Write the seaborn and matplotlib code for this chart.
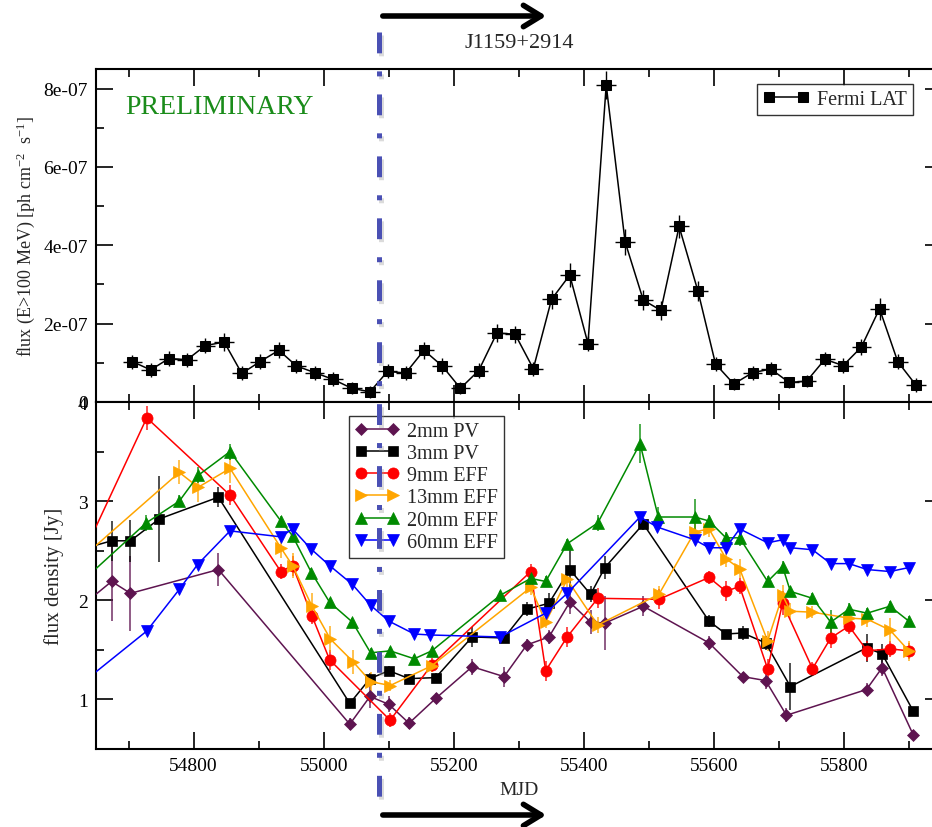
import numpy as np
import pandas as pd
import matplotlib
matplotlib.use("Agg")
import matplotlib.pyplot as plt
import seaborn as sns
from matplotlib.lines import Line2D
from matplotlib.ticker import MultipleLocator, FuncFormatter

# ---------------- data ----------------
fermi_mjd = [54706, 54734, 54762, 54790, 54818, 54847, 54874, 54902, 54931, 54958,
             54986, 55014, 55043, 55071, 55098, 55126, 55154, 55182, 55210, 55238,
             55266, 55294, 55322, 55350, 55378, 55406, 55434, 55463, 55491, 55518,
             55546, 55575, 55602, 55630, 55659, 55687, 55715, 55742, 55770, 55798,
             55826, 55854, 55882, 55910]
fermi_flux = [1.03, 0.82, 1.11, 1.08, 1.44, 1.53, 0.73, 1.03, 1.32, 0.92,
              0.75, 0.58, 0.35, 0.26, 0.78, 0.74, 1.32, 0.92, 0.35, 0.80,
              1.76, 1.73, 0.85, 2.62, 3.24, 1.49, 8.09, 4.09, 2.60, 2.34,
              4.48, 2.83, 0.97, 0.46, 0.75, 0.84, 0.50, 0.53, 1.09, 0.93,
              1.40, 2.38, 1.03, 0.43]  # units of 1e-7
fermi_err = [0.18, 0.18, 0.18, 0.18, 0.2, 0.22, 0.18, 0.2, 0.2, 0.18,
             0.18, 0.18, 0.15, 0.15, 0.18, 0.18, 0.22, 0.2, 0.15, 0.2,
             0.22, 0.22, 0.18, 0.25, 0.3, 0.2, 0.35, 0.33, 0.25, 0.25,
             0.3, 0.25, 0.18, 0.15, 0.18, 0.18, 0.15, 0.15, 0.18, 0.2,
             0.2, 0.28, 0.2, 0.18]
fermi_xerr = 15

mm2_mjd = [54620, 54674, 54703, 54838, 55040, 55071, 55100, 55131, 55172, 55228,
           55277, 55312, 55346, 55378, 55410, 55432, 55491, 55592, 55644, 55679,
           55711, 55834, 55858, 55906]
mm2_flux = [1.90, 2.19, 2.07, 2.31, 0.75, 1.03, 0.95, 0.76, 1.01, 1.33,
            1.23, 1.55, 1.63, 1.98, 1.78, 1.77, 1.94, 1.57, 1.23, 1.19,
            0.84, 1.10, 1.32, 0.64]
mm2_err = [0.1, 0.40, 0.38, 0.17, 0.06, 0.12, 0.08, 0.06, 0.05, 0.08,
           0.1, 0.06, 0.07, 0.12, 0.12, 0.27, 0.1, 0.07, 0.05, 0.08,
           0.07, 0.07, 0.08, 0.05]

mm3_mjd = [54620, 54674, 54703, 54747, 54838, 55040, 55071, 55100, 55131, 55172,
           55228, 55277, 55312, 55346, 55378, 55410, 55432, 55491, 55592, 55618,
           55644, 55679, 55717, 55834, 55858, 55906]
mm3_flux = [2.50, 2.60, 2.60, 2.82, 3.04, 0.96, 1.21, 1.29, 1.21, 1.22,
            1.63, 1.62, 1.91, 1.97, 2.31, 2.06, 2.33, 2.77, 1.79, 1.66,
            1.67, 1.57, 1.13, 1.52, 1.46, 0.88]
mm3_err = [0.1, 0.20, 0.21, 0.43, 0.10, 0.03, 0.06, 0.05, 0.05, 0.05,
           0.1, 0.05, 0.07, 0.1, 0.2, 0.08, 0.12, 0.06, 0.06, 0.04,
           0.07, 0.07, 0.24, 0.14, 0.1, 0.03]

mm9_mjd = [54620, 54728, 54856, 54934, 54952, 54982, 55009, 55102, 55166, 55318,
           55341, 55374, 55421, 55515, 55592, 55618, 55639, 55682, 55705, 55751,
           55779, 55807, 55835, 55870, 55899]
mm9_flux = [2.32, 3.84, 3.06, 2.29, 2.35, 1.84, 1.40, 0.79, 1.35, 2.29,
            1.29, 1.63, 2.02, 2.01, 2.23, 2.09, 2.14, 1.31, 1.97, 1.31,
            1.62, 1.74, 1.49, 1.51, 1.49]
mm9_err = [0.1, 0.12, 0.1, 0.08, 0.1, 0.08, 0.1, 0.07, 0.07, 0.08,
           0.1, 0.1, 0.1, 0.1, 0.07, 0.1, 0.08, 0.1, 0.12, 0.07,
           0.1, 0.08, 0.1, 0.08, 0.08]

mm13_mjd = [54620, 54778, 54807, 54856, 54934, 54952, 54982, 55010, 55045, 55072,
            55102, 55166, 55318, 55341, 55374, 55421, 55515, 55570, 55592, 55618,
            55639, 55682, 55705, 55717, 55751, 55807, 55835, 55870, 55899]
mm13_flux = [2.38, 3.29, 3.14, 3.33, 2.53, 2.35, 1.94, 1.61, 1.38, 1.18,
             1.14, 1.34, 2.13, 1.78, 2.21, 1.75, 2.06, 2.69, 2.72, 2.42,
             2.32, 1.59, 2.05, 1.89, 1.88, 1.82, 1.81, 1.70, 1.49]
mm13_err = [0.1, 0.12, 0.15, 0.15, 0.1, 0.13, 0.13, 0.13, 0.12, 0.1,
            0.06, 0.06, 0.08, 0.06, 0.08, 0.08, 0.08, 0.13, 0.08, 0.08,
            0.1, 0.1, 0.1, 0.08, 0.06, 0.06, 0.08, 0.12, 0.1]

mm20_mjd = [54620, 54727, 54778, 54807, 54856, 54934, 54952, 54981, 55009, 55044,
            55072, 55102, 55139, 55166, 55271, 55318, 55341, 55374, 55421, 55486,
            55514, 55570, 55592, 55618, 55639, 55682, 55705, 55717, 55751, 55779,
            55807, 55835, 55870, 55899]
mm20_flux = [2.14, 2.78, 3.00, 3.26, 3.50, 2.80, 2.65, 2.28, 1.98, 1.78,
             1.47, 1.49, 1.41, 1.49, 2.05, 2.22, 2.19, 2.57, 2.78, 3.58,
             2.84, 2.84, 2.80, 2.63, 2.63, 2.19, 2.34, 2.09, 2.02, 1.78,
             1.91, 1.87, 1.94, 1.79]
mm20_err = [0.05, 0.08, 0.06, 0.08, 0.08, 0.05, 0.05, 0.05, 0.04, 0.04,
            0.05, 0.04, 0.04, 0.04, 0.04, 0.06, 0.05, 0.05, 0.08, 0.2,
            0.1, 0.18, 0.06, 0.06, 0.08, 0.06, 0.06, 0.05, 0.05, 0.12,
            0.06, 0.05, 0.05, 0.05]

mm60_mjd = [54620, 54728, 54778, 54806, 54856, 54934, 54952, 54980, 55009, 55044,
            55072, 55100, 55139, 55164, 55271, 55341, 55374, 55486, 55512, 55570,
            55592, 55618, 55639, 55682, 55705, 55717, 55751, 55779, 55807, 55835,
            55870, 55899]
mm60_flux = [1.12, 1.69, 2.11, 2.36, 2.70, 2.64, 2.72, 2.52, 2.35, 2.16,
             1.95, 1.79, 1.66, 1.65, 1.63, 1.87, 2.07, 2.84, 2.74, 2.61,
             2.53, 2.53, 2.72, 2.58, 2.61, 2.53, 2.51, 2.37, 2.37, 2.31,
             2.29, 2.33]
mm60_err = [0.03, 0.03, 0.03, 0.03, 0.03, 0.03, 0.03, 0.03, 0.03, 0.03,
            0.03, 0.03, 0.03, 0.03, 0.03, 0.03, 0.03, 0.03, 0.03, 0.03,
            0.03, 0.03, 0.03, 0.03, 0.03, 0.03, 0.03, 0.03, 0.03, 0.03,
            0.03, 0.03]

series = [
    ("2mm PV", mm2_mjd, mm2_flux, mm2_err, "#5e1450", "D", 6.0),
    ("3mm PV", mm3_mjd, mm3_flux, mm3_err, "#000000", "s", 7.0),
    ("9mm EFF", mm9_mjd, mm9_flux, mm9_err, "#ff0000", "o", 8.0),
    ("13mm EFF", mm13_mjd, mm13_flux, mm13_err, "#ffa500", ">", 8.0),
    ("20mm EFF", mm20_mjd, mm20_flux, mm20_err, "#008a00", "^", 8.0),
    ("60mm EFF", mm60_mjd, mm60_flux, mm60_err, "#0000ff", "v", 8.0),
]

xlim = (54650, 55950)
top_ylim = (0, 8.5e-7)
bot_ylim = (0.5, 4.0)

# ---------------- style ----------------
sns.set_theme(style="ticks")
plt.rcParams["font.family"] = ["Liberation Serif", "DejaVu Serif"]
plt.rcParams["mathtext.fontset"] = "custom"
plt.rcParams["mathtext.rm"] = "Liberation Serif"
plt.rcParams["mathtext.it"] = "Liberation Serif:italic"
plt.rcParams["lines.scale_dashes"] = False
plt.rcParams["axes.linewidth"] = 1.5

W, H = 932, 828
fig = plt.figure(figsize=(W / 100, H / 100), dpi=100)


def px_ax(l, t, r, b):
    return fig.add_axes([l / W, 1 - b / H, (r - l) / W, (b - t) / H])


ax1 = px_ax(96, 70, 942, 403)
ax2 = px_ax(96, 403, 942, 750)

for ax in (ax1, ax2):
    ax.set_facecolor("white")
    ax.set_xlim(*xlim)
    ax.xaxis.set_major_locator(MultipleLocator(200))
    ax.xaxis.set_minor_locator(MultipleLocator(100))
    ax.tick_params(which="both", direction="in", top=True, right=True,
                   bottom=True, left=True, width=1.2, labelsize=14,
                   colors="black", pad=6)
    ax.tick_params(which="major", length=12)
    ax.tick_params(which="minor", length=6)
    for s in ax.spines.values():
        s.set_color("black")
        s.set_linewidth(1.5)

# ---------------- top panel ----------------
fermi_vals = np.array(fermi_flux) * 1e-7
fermi_errs = np.array(fermi_err) * 1e-7
df_f = pd.DataFrame({"mjd": fermi_mjd, "flux": fermi_vals})
ax1.errorbar(fermi_mjd, fermi_vals, yerr=fermi_errs, xerr=fermi_xerr, fmt="none",
             ecolor="black", elinewidth=1.0, capsize=0, zorder=2)
sns.lineplot(data=df_f, x="mjd", y="flux", ax=ax1, color="black", marker="s",
             markersize=7, markeredgecolor="black", linewidth=1.1,
             estimator=None, sort=False, label="Fermi LAT", zorder=3)
ax1.set_ylim(*top_ylim)
ax1.yaxis.set_major_locator(MultipleLocator(2e-7))
ax1.yaxis.set_minor_locator(MultipleLocator(1e-7))
ax1.yaxis.set_major_formatter(FuncFormatter(lambda v, p: "0" if abs(v) < 1e-12 else f"{v:.0e}"))
ax1.set_xticklabels([])
ax1.set_xlabel("")
ax1.set_ylabel("flux (E>100 MeV) [ph cm$^{-2}$  s$^{-1}$]", fontsize=13, labelpad=4)
h, l = ax1.get_legend_handles_labels()
leg1 = ax1.legend(h, l, loc="upper right", bbox_to_anchor=(913 / W, 1 - 85 / H),
                  bbox_transform=fig.transFigure, borderaxespad=0, numpoints=2,
                  fontsize=14.5, frameon=True, fancybox=False, edgecolor="black",
                  handlelength=2.3, handletextpad=0.4, borderpad=0.3)
leg1.get_frame().set_linewidth(1.0)

fig.text(125 / W, 1 - 114 / H, "PRELIMINARY", color="#1a8c1a", fontsize=20,
         va="baseline", ha="left")

# ---------------- bottom panel ----------------
for name, mjd, flux, err, col, mk, ms in series:
    df = pd.DataFrame({"mjd": mjd, "flux": flux})
    ax2.errorbar(mjd, flux, yerr=err, fmt="none", ecolor=col, elinewidth=1.3,
                 capsize=0, alpha=0.75, zorder=2)
    sns.lineplot(data=df, x="mjd", y="flux", ax=ax2, color=col, marker=mk,
                 markersize=ms, markeredgecolor=col, markeredgewidth=0.5,
                 linewidth=1.1, estimator=None, sort=False, label=name, zorder=3)
ax2.set_ylim(*bot_ylim)
ax2.yaxis.set_major_locator(MultipleLocator(1))
ax2.yaxis.set_minor_locator(MultipleLocator(0.5))
ax2.set_xlabel("MJD", fontsize=14, labelpad=5)
ax2.set_ylabel("flux density [Jy]", fontsize=15, labelpad=10)
h, l = ax2.get_legend_handles_labels()
leg2 = ax2.legend(h, l, loc="upper left", bbox_to_anchor=(349 / W, 1 - 417 / H),
                  bbox_transform=fig.transFigure, borderaxespad=0, numpoints=2,
                  fontsize=14.5, frameon=True, fancybox=False, edgecolor="black",
                  handlelength=2.2, handletextpad=0.4, labelspacing=0.15,
                  borderpad=0.3)
leg2.get_frame().set_linewidth(1.0)

# ---------------- annotations ----------------
xline = 379 / W
shadow = Line2D([xline + 2 / W, xline + 2 / W], [1 - 36 / H, 1 - 810 / H],
                transform=fig.transFigure, color="#999999", alpha=0.35, lw=3.6,
                dashes=(15, 13, 3.6, 13), solid_capstyle="butt",
                dash_capstyle="butt", zorder=9)
fig.add_artist(shadow)
vline = Line2D([xline, xline], [1 - 33 / H, 1 - 808 / H], transform=fig.transFigure,
               color="#4a50b4", lw=3.6, dashes=(15, 13, 3.6, 13),
               dash_capstyle="butt", zorder=10)
fig.add_artist(vline)

for ypx in (17, 816):
    fig.add_artist(matplotlib.patches.FancyArrowPatch(
        (380 / W, 1 - ypx / H), (549 / W, 1 - ypx / H), transform=fig.transFigure,
        arrowstyle="->,head_length=0.9,head_width=0.55", lw=4.0, color="black",
        mutation_scale=14, zorder=11))

fig.text(519 / W, 1 - 44 / H, "J1159+2914", fontsize=16, ha="center", va="center")

fig.savefig("out.png", dpi=100, facecolor="white")
